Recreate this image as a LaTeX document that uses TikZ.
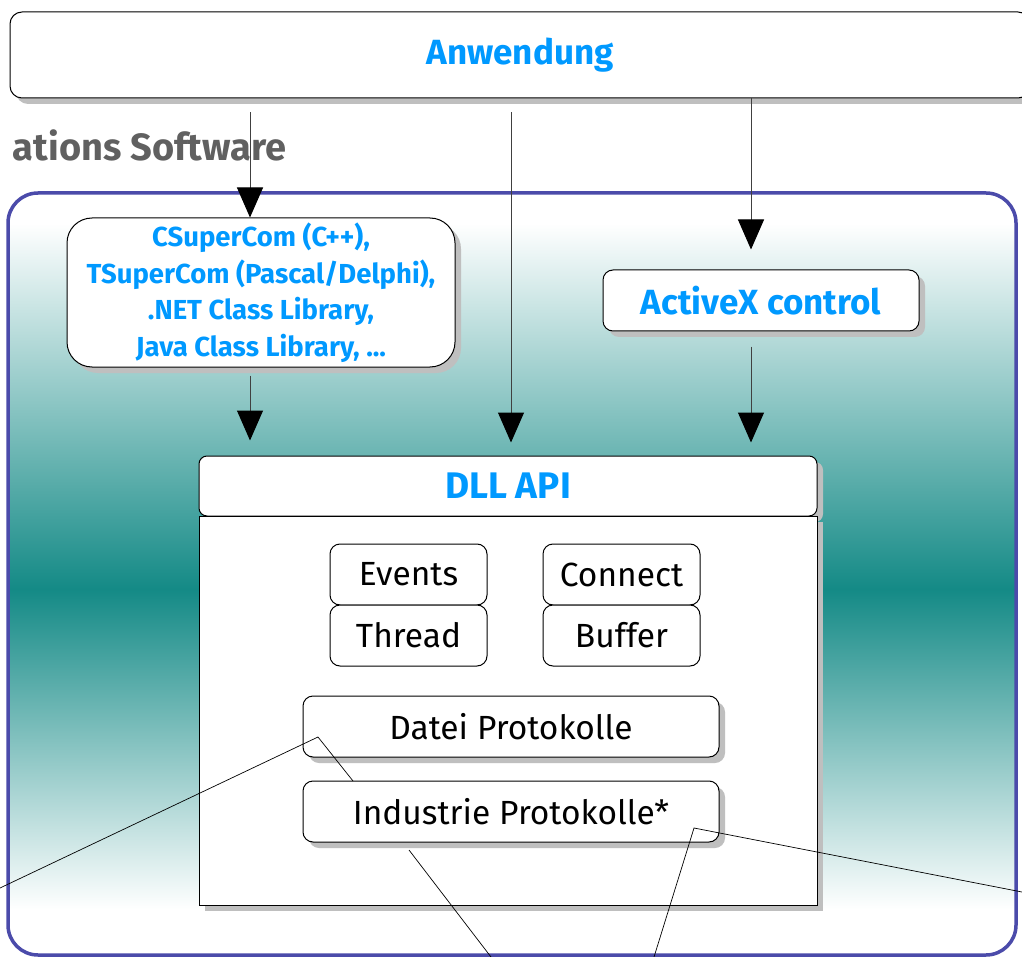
\documentclass[tikz,border=0pt]{standalone}
\usepackage{fontspec}
\setmainfont{Fira Sans}
\usetikzlibrary{arrows.meta,shadows}

\definecolor{appblue}{RGB}{0,153,255}
\definecolor{appteal}{RGB}{20,138,134}
\definecolor{appframe}{RGB}{75,75,170}
\definecolor{appgray}{RGB}{96,96,96}
\pgfdeclareverticalshading{appshade}{100bp}{color(0bp)=(white); color(28bp)=(white);
  color(49bp)=(appteal); color(73bp)=(white); color(100bp)=(white)}

\tikzset{
  box/.style = {draw, line width=1pt, fill=white, align=center, inner sep=0pt},
  shadowed/.style = {drop shadow={shadow xshift=6pt, shadow yshift=-6pt, fill=black!25, opacity=1}},
  bluetext/.style = {text=appblue, font=\bfseries\fontsize{35}{36}\selectfont},
  blacktext/.style = {font=\fontsize{33.5}{36}\selectfont},
  arr/.style = {draw=black!75, line width=1pt, -{Triangle[width=26pt,length=30pt,color=black]}},
  thin/.style = {line width=0.7pt}
}

\begin{document}
\begin{tikzpicture}[x=1pt, y=-1pt]
  \useasboundingbox (0,0) rectangle (1022,957);

  % Rahmen der Applikations Software
  \draw [line width=3.5pt, draw=appframe, shading=appshade, rounded corners=30pt]
    (8,193) rectangle (1016,955);
  \node [anchor=east, text=appgray, font=\bfseries\fontsize{38}{40}\selectfont] (soft) at (290,145) {ations Software};

  % Anwendung oben
  \node [box, shadowed, rounded corners=12pt, minimum width=1020pt, minimum height=86pt, bluetext] (anw) at (520,55) {Anwendung};

  % Bibliotheken und ActiveX
  \node [box, shadowed, rounded corners=25pt, minimum width=388pt, minimum height=149pt,
         bluetext, font=\bfseries\fontsize{27.5}{36.5}\selectfont] (lib) at (261,292.5)
    {CSuperCom (C++),\\TSuperCom (Pascal/Delphi),\\.NET Class Library,\\Java Class Library, ...};
  \node [box, shadowed, rounded corners=10pt, minimum width=316pt, minimum height=61pt, bluetext] (ax) at (761,300.5) {ActiveX control};

  % DLL API
  \node [box, shadowed, rounded corners=8pt, minimum width=618pt, minimum height=60pt, bluetext,
         font=\bfseries\fontsize{37}{38}\selectfont] (dll) at (508,486) {DLL API};
  \node [box, shadowed, minimum width=618pt, minimum height=389pt] (body) at (508,710.5) {};

  % vier kleine Kaesten
  \node [box, rounded corners=10pt, minimum width=157pt, minimum height=61pt, blacktext] (events) at (408.5,574.5) {Events};
  \node [box, rounded corners=10pt, minimum width=157pt, minimum height=61pt, blacktext] (thread) at (408.5,635.5) {Thread};
  \node [box, rounded corners=10pt, minimum width=157pt, minimum height=61pt, blacktext] (connect) at (621.5,574.5) {Connect};
  \node [box, rounded corners=10pt, minimum width=157pt, minimum height=61pt, blacktext] (buffer) at (621.5,635.5) {Buffer};

  % Protokolle
  \node [box, shadowed, rounded corners=10pt, minimum width=416pt, minimum height=61pt, blacktext] (datei) at (511,726.5) {Datei Protokolle};
  \node [box, shadowed, rounded corners=10pt, minimum width=416pt, minimum height=61pt, blacktext] (indu) at (511,811.5) {Industrie Protokolle*};

  % Pfeile
  \draw [arr, shorten <=14pt] ([xshift=-11pt]anw.south -| lib.north) -- ([xshift=-11pt]lib.north);
  \draw [arr, shorten <=14pt, shorten >=13pt] (anw.south -| datei.north) -- (datei.north |- dll.north);
  \draw [arr, shorten >=20pt] ([xshift=-10pt]anw.south -| ax.north) -- ([xshift=-10pt]ax.north);
  \draw [arr, shorten <=8pt, shorten >=15pt] ([xshift=-11pt]lib.south) -- ([xshift=-11pt]lib.south |- dll.north);
  \draw [arr, shorten <=15pt, shorten >=13pt] ([xshift=-10pt]ax.south) -- ([xshift=-10pt]ax.south |- dll.north);

  % Hinweislinien nach aussen
  \coordinate (c1) at (0,888);
  \coordinate (c2) at (318,737);
  \coordinate (c3) at (353,781);
  \coordinate (c4) at (409,850);
  \coordinate (c5) at (491,957);
  \coordinate (c6) at (654,957);
  \coordinate (c7) at (694,828);
  \coordinate (c8) at (1022,892);
  \draw [thin] (c1) -- (c2) -- (c3);
  \draw [thin] (c4) -- (c5);
  \draw [thin] (c6) -- (c7) -- (c8);
\end{tikzpicture}
\end{document}
